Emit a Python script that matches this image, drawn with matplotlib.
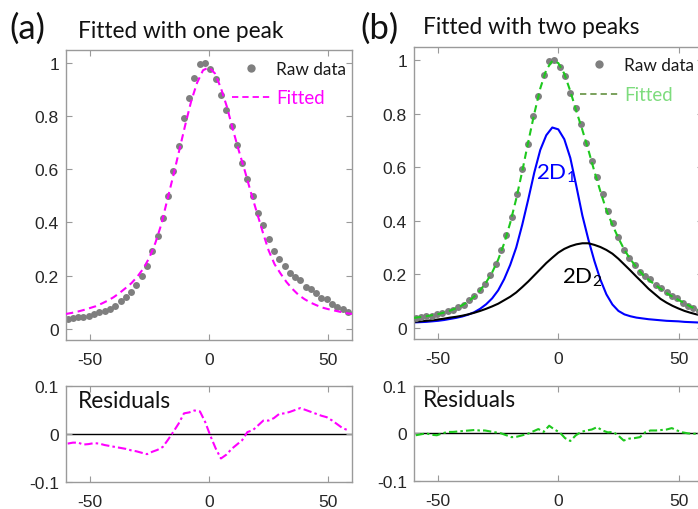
import matplotlib
matplotlib.use('Agg')
import matplotlib.pyplot as plt
from matplotlib.lines import Line2D

plt.rcParams['axes.unicode_minus'] = False
plt.rcParams['mathtext.fontset'] = 'custom'
plt.rcParams['mathtext.rm'] = 'Lato'
plt.rcParams['mathtext.it'] = 'Lato:italic'

# ---------------- data ----------------
raw_x = [-59.3, -57.1, -54.9, -52.7, -50.5, -48.2, -46.0, -43.8, -41.6, -39.4,
         -37.1, -34.9, -32.7, -30.5, -28.3, -26.0, -23.8, -21.6, -19.4, -17.2,
         -14.9, -12.7, -10.5, -8.3, -6.1, -3.8, -1.6, 0.6, 2.8, 5.0,
         7.3, 9.5, 11.7, 13.9, 16.1, 18.4, 20.6, 22.8, 25.0, 27.2,
         29.5, 31.7, 33.9, 36.1, 38.3, 40.6, 42.8, 45.0, 47.2, 49.4,
         51.7, 53.9, 56.1, 58.3]
raw_y = [0.036, 0.039, 0.044, 0.045, 0.050, 0.054, 0.064, 0.067, 0.076, 0.086,
         0.103, 0.120, 0.140, 0.165, 0.197, 0.237, 0.291, 0.348, 0.416, 0.500,
         0.593, 0.688, 0.792, 0.866, 0.944, 0.996, 1.000, 0.975, 0.940, 0.878,
         0.823, 0.763, 0.692, 0.623, 0.563, 0.499, 0.435, 0.390, 0.338, 0.292,
         0.261, 0.236, 0.208, 0.194, 0.182, 0.159, 0.148, 0.135, 0.117, 0.112,
         0.093, 0.081, 0.073, 0.063]

fit_x = [-60, -57.5, -55, -52.5, -50, -47.5, -45, -42.5, -40, -37.5,
         -35, -32.5, -30, -27.5, -25, -22.5, -20, -17.5, -15, -12.5,
         -10, -7.5, -5, -2.5, 0, 2.5, 5, 7.5, 10, 12.5,
         15, 17.5, 20, 22.5, 25, 27.5, 30, 32.5, 35, 37.5,
         40, 42.5, 45, 47.5, 50, 52.5, 55, 57.5, 60]

# panel (a): single peak fit
fit_one = [0.056, 0.060, 0.065, 0.071, 0.078, 0.085, 0.095, 0.106, 0.119, 0.135,
           0.153, 0.172, 0.197, 0.227, 0.268, 0.323, 0.393, 0.485, 0.575, 0.670,
           0.765, 0.855, 0.925, 0.972, 0.983, 0.960, 0.905, 0.835, 0.750, 0.670,
           0.595, 0.515, 0.440, 0.365, 0.295, 0.243, 0.208, 0.176, 0.150, 0.128,
           0.112, 0.099, 0.089, 0.080, 0.074, 0.069, 0.064, 0.059, 0.056]

# panel (b): two-peak fit and components
fit_two = [0.037, 0.040, 0.043, 0.047, 0.051, 0.057, 0.064, 0.073, 0.084, 0.098,
           0.116, 0.140, 0.170, 0.207, 0.255, 0.316, 0.392, 0.482, 0.585, 0.695,
           0.800, 0.895, 0.965, 0.998, 0.990, 0.950, 0.885, 0.810, 0.740, 0.665,
           0.585, 0.510, 0.440, 0.385, 0.335, 0.291, 0.256, 0.226, 0.200, 0.180,
           0.162, 0.146, 0.130, 0.116, 0.104, 0.092, 0.079, 0.069, 0.061]
peak_2d1 = [0.020, 0.021, 0.022, 0.024, 0.026, 0.029, 0.033, 0.037, 0.042, 0.049,
            0.058, 0.071, 0.088, 0.110, 0.140, 0.182, 0.235, 0.300, 0.385, 0.480,
            0.580, 0.665, 0.720, 0.749, 0.742, 0.705, 0.635, 0.530, 0.420, 0.330,
            0.250, 0.180, 0.125, 0.087, 0.063, 0.050, 0.043, 0.038, 0.035, 0.032,
            0.030, 0.028, 0.026, 0.025, 0.024, 0.022, 0.021, 0.020, 0.019]
peak_2d2 = [0.022, 0.024, 0.026, 0.028, 0.031, 0.034, 0.038, 0.041, 0.045, 0.050,
            0.056, 0.063, 0.071, 0.080, 0.090, 0.103, 0.116, 0.132, 0.152, 0.173,
            0.196, 0.219, 0.242, 0.262, 0.281, 0.295, 0.305, 0.312, 0.316, 0.316,
            0.310, 0.302, 0.291, 0.277, 0.258, 0.236, 0.214, 0.191, 0.169, 0.146,
            0.127, 0.108, 0.094, 0.082, 0.072, 0.063, 0.056, 0.050, 0.045]

res_one = [-0.020, -0.018, -0.018, -0.022, -0.021, -0.019, -0.020, -0.023, -0.025, -0.027,
           -0.029, -0.031, -0.034, -0.036, -0.039, -0.042, -0.037, -0.033, -0.027, -0.012,
           0.005, 0.022, 0.043, 0.045, 0.049, 0.047, 0.025, -0.004, -0.030, -0.051,
           -0.043, -0.031, -0.022, -0.013, 0.004, 0.008, 0.018, 0.028, 0.028, 0.033,
           0.042, 0.043, 0.046, 0.050, 0.054, 0.050, 0.046, 0.042, 0.038, 0.035,
           0.028, 0.020, 0.012, 0.008]
res_two = [-0.004, -0.002, 0.000, -0.003, -0.004, 0.000, 0.003, 0.003, 0.004, 0.005,
           0.006, 0.007, 0.006, 0.006, 0.004, 0.002, 0.000, -0.004, -0.008, -0.007,
           -0.004, -0.001, 0.004, 0.009, 0.003, 0.016, 0.008, 0.002, -0.010, -0.016,
           -0.004, 0.003, 0.006, 0.008, 0.013, 0.006, 0.002, 0.003, -0.005, -0.015,
           -0.011, -0.010, -0.008, 0.002, 0.006, 0.006, 0.007, 0.008, 0.011, 0.006,
           0.002, 0.000, -0.001, 0.000]

xticks = [-50, 0, 50]
xtick_labels = ['-50', '0', '50']
yticks_main = [0, 0.2, 0.4, 0.6, 0.8, 1]
ytick_main_labels = ['0', '0.2', '0.4', '0.6', '0.8', '1']
yticks_res = [-0.1, 0, 0.1]
ytick_res_labels = ['-0.1', '0', '0.1']

# ---------------- style ----------------
W, H = 698, 510
fig = plt.figure(figsize=(W / 100, H / 100), dpi=100)

def frac(l, t, r, b):
    return [l / W, 1 - b / H, (r - l) / W, (b - t) / H]

spine_c = '#9a9a9a'
tick_txt = '#262626'
dot_c = '#7f7f7f'
magenta = '#ff00ff'
green = '#1ec81e'
TXT = 'Lato'

axA = fig.add_axes(frac(66, 50.5, 352, 341))
axAr = fig.add_axes(frac(66, 387, 352, 483))
axB = fig.add_axes(frac(414, 48, 702.6, 340))
axBr = fig.add_axes(frac(414, 386.7, 702.6, 482))

def style(ax, yt, ytl, ylim):
    ax.set_xlim(-60, 60)
    ax.set_ylim(*ylim)
    ax.set_xticks(xticks)
    ax.set_xticklabels(xtick_labels)
    ax.set_yticks(yt)
    ax.set_yticklabels(ytl)
    ax.tick_params(direction='in', top=True, right=True, length=4, width=0.8,
                   color=spine_c, labelsize=12.6, labelcolor=tick_txt)
    ax.tick_params(axis='x', pad=8.5)
    ax.tick_params(axis='y', pad=5)
    for s in ax.spines.values():
        s.set_color(spine_c)
        s.set_linewidth(1.0)
    for lab in ax.get_xticklabels() + ax.get_yticklabels():
        lab.set_family('Liberation Sans')

dash = (0, (3.5, 2.2))
dashdot = (0, (4, 1.5, 1.2, 1.5))

for ax in (axA, axB):
    style(ax, yticks_main, ytick_main_labels, (-0.042, 1.05))
for ax in (axAr, axBr):
    style(ax, yticks_res, ytick_res_labels, (-0.1, 0.1))

# panel (a)
axA.plot(raw_x, raw_y, ls='none', marker='o', ms=5, mew=0, color=dot_c, zorder=2)
axA.plot(fit_x, fit_one, ls=dash, lw=1.5, color=magenta, zorder=3)

# panel (b)
axB.plot(fit_x, peak_2d1, '-', lw=1.5, color='#0000ff', zorder=2)
axB.plot(fit_x, peak_2d2, '-', lw=1.5, color='black', zorder=2)
axB.plot(raw_x, raw_y, ls='none', marker='o', ms=5, mew=0, color=dot_c, zorder=3)
axB.plot(fit_x, fit_two, ls=dash, lw=1.5, color=green, zorder=4)
axB.text(-9.2, 0.58, '2D$_1$', color='#0000ff', fontsize=16, family=TXT, va='center', ha='left')
axB.text(1.4, 0.19, '2D$_2$', color='black', fontsize=16, family=TXT, va='center', ha='left')

# residuals
axAr.axhline(0, color='black', lw=1.0, zorder=1)
axAr.plot(raw_x, res_one, ls=dashdot, lw=1.5, color=magenta, zorder=2)
axBr.axhline(0, color='black', lw=1.0, zorder=1)
axBr.plot(raw_x, res_two, ls=dashdot, lw=1.5, color=green, zorder=2)

# legends
def make_legend(ax, line_color, fit_text_color, anchor):
    h1 = Line2D([], [], ls='none', marker='o', ms=6, mew=0, color=dot_c)
    h2 = Line2D([], [], ls=dash, lw=1.3, color=line_color)
    leg = ax.legend([h1, h2], ['Raw data', 'Fitted'], loc='upper left',
                    bbox_to_anchor=anchor, frameon=False, borderpad=0,
                    borderaxespad=0, handlelength=2.2, handletextpad=0.35,
                    labelspacing=0.75, prop={'family': TXT, 'size': 12.4})
    t1, t2 = leg.get_texts()
    t1.set_color('#1a1a1a')
    t2.set_color(fit_text_color)
    t2.set_fontsize(13.4)
    return leg

make_legend(axA, magenta, magenta, (0.58, 0.962))
make_legend(axB, '#6f9a4f', '#7ddc7d', (0.575, 0.965))

# titles and labels
TS = 16.3
fig.text(9 / W, 1 - 29 / H, '(a)', fontsize=25, family=TXT, va='center', ha='left', color='#111111')
fig.text(78 / W, 1 - 32 / H, 'Fitted with one peak', fontsize=TS, family=TXT, va='center', ha='left', color='#111111')
fig.text(360 / W, 1 - 29 / H, '(b)', fontsize=25, family=TXT, va='center', ha='left', color='#111111')
fig.text(423 / W, 1 - 28 / H, 'Fitted with two peaks', fontsize=TS, family=TXT, va='center', ha='left', color='#111111')
fig.text(78 / W, 1 - 402 / H, 'Residuals', fontsize=TS, family=TXT, va='center', ha='left', color='#111111')
fig.text(423 / W, 1 - 401 / H, 'Residuals', fontsize=TS, family=TXT, va='center', ha='left', color='#111111')

fig.savefig('out.png', dpi=100)
